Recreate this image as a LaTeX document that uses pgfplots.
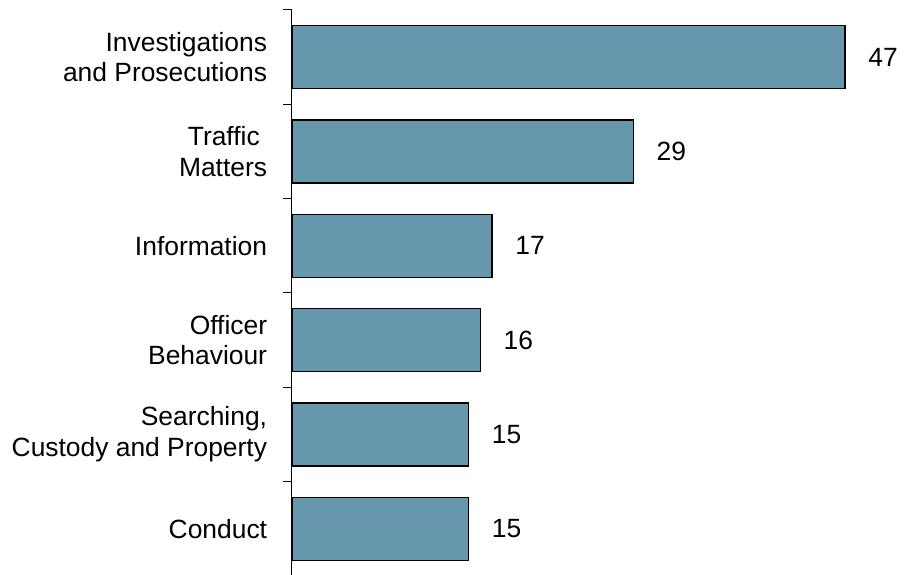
\documentclass[border=0pt]{standalone}
\usepackage{pgfplots}
\pgfplotsset{compat=1.18}
\usepackage{fontspec}
\setmainfont{Liberation Sans}
\definecolor{barblue}{RGB}{103,151,173}
\begin{document}
\begin{tikzpicture}
\fontsize{19.8}{23}\selectfont
\begin{axis}[
  name=ax,
  scale only axis,
  width=461.25pt, height=424.5pt,
  xbar, bar width=47.25pt,
  xmin=0, xmax=52.27,
  ymin=-0.5, ymax=5.5,
  y dir=reverse,
  hide x axis,
  axis y line*=left,
  axis line style={line width=0.75pt, -},
  ytick={0,1,2,3,4,5},
  yticklabels={{Investigations\\and Prosecutions},{Traffic\rule{5.5pt}{0pt}\\Matters},{Information},{Officer\\Behaviour},{Searching,\\Custody and Property},{Conduct}},
  yticklabel style={align=right, font=\fontsize{19.8}{23}\selectfont, inner sep=0pt, xshift=-18.5pt},
  major tick length=0pt,
  minor ytick={-0.5,0.5,1.5,2.5,3.5,4.5,5.5},
  minor tick length=6.75pt,
  tick align=outside,
  ytick pos=left,
  every tick/.style={line width=0.75pt, black},
  clip=false,
  /pgf/number format/assume math mode=true,
  nodes near coords,
  every node near coord/.append style={anchor=west, xshift=10.5pt, font=\fontsize{19.8}{23}\selectfont, black},
]
\addplot[fill=barblue, draw=black, line width=1pt] coordinates {(47,0) (29,1) (17,2) (16,3) (15,4) (15,5)};
\end{axis}
\pgfresetboundingbox
\path ([xshift=-219pt,yshift=0.75pt]ax.south west) rectangle ([yshift=7.5pt]ax.north east);
\end{tikzpicture}
\end{document}
